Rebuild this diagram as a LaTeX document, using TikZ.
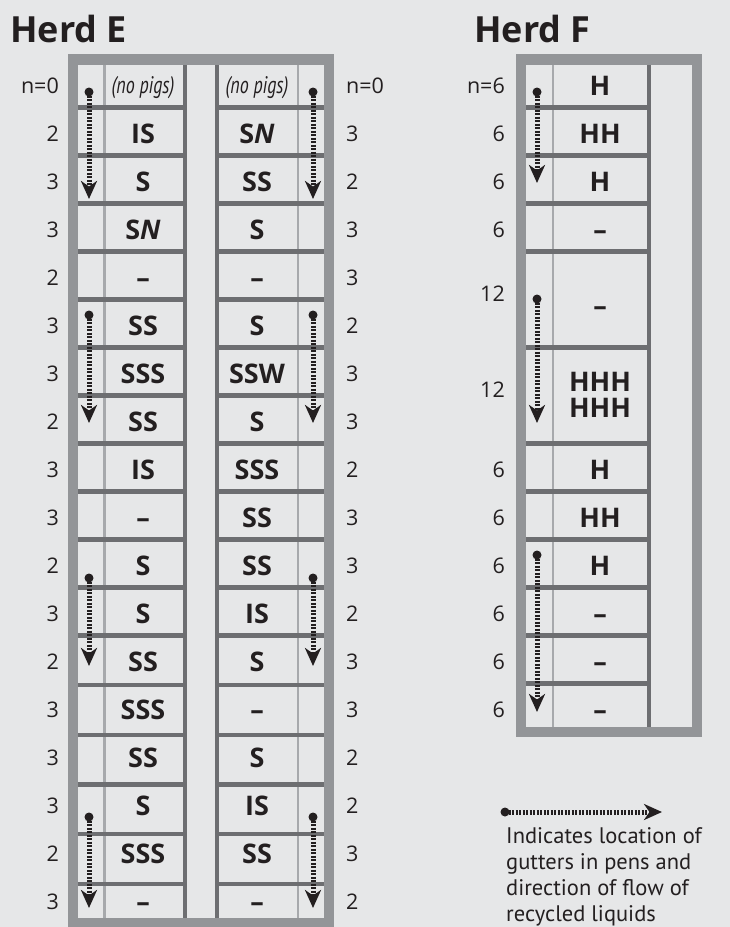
\documentclass[tikz,border=0pt]{standalone}
\usepackage{fontspec}
\setmainfont{Open Sans}
\newfontfamily\legfont{PT Sans}
\usepackage{graphicx}
\usetikzlibrary{arrows.meta}
\definecolor{bgc}{HTML}{E6E7E8}
\definecolor{framec}{HTML}{939598}
\definecolor{darkc}{HTML}{6D6E71}
\definecolor{thinc}{HTML}{A7A9AC}
\definecolor{inkc}{HTML}{231F20}
\tikzset{
  rowlbl/.style={font=\fontsize{21.5}{24}\selectfont, text=inkc, inner sep=0pt},
  lblL/.style={rowlbl, anchor=base east},
  lblR/.style={rowlbl, anchor=base west},
  pen/.style={font=\bfseries\fontsize{27}{30}\selectfont, text=inkc, inner sep=0pt, anchor=base},
  nopigs/.style={font=\legfont\itshape\fontsize{24}{26}\selectfont, text=inkc, inner sep=0pt, anchor=base},
  herdtitle/.style={font=\bfseries\fontsize{36}{40}\selectfont, text=inkc, inner sep=0pt, anchor=base west},
  legtext/.style={font=\legfont\fontsize{22.5}{26}\selectfont, text=inkc, inner sep=0pt, anchor=base west},
  divider/.style={draw=darkc, line width=4.5pt},
  wall/.style={draw=darkc, line width=4.5pt},
  gutterline/.style={draw=thinc, line width=2.5pt},
  flow/.style={draw=inkc, line width=5pt, dash pattern=on 2.3pt off 1.2pt, -{Stealth[length=18pt,width=16pt,inset=5.5pt]}},
  flowdot/.style={fill=inkc, circle, inner sep=0pt, minimum size=9pt},
}
\begin{document}
\begin{tikzpicture}[x=1pt,y=-1pt]
\useasboundingbox (0,0) rectangle (730,927);
\fill[bgc] (0,0) rectangle (730,927);
% ---------------- Herd E ----------------
\node[herdtitle] (titleE) at (10,42) {Herd E};
\fill[framec] (68,54) rectangle (334,934);
\fill[bgc] (78,65) rectangle (324,918);
\draw[gutterline] (104.5,65) -- (104.5,918);
\draw[gutterline] (298,65) -- (298,918);
\foreach \y in {107.5,155.5,203.5,251.5,299.5,347.5,395.5,443.5,491.5,539.5,587.5,635.5,685,735,784.5,834,884}{
  \draw[divider] (78,\y) -- (185,\y);
  \draw[divider] (217,\y) -- (324,\y);
}
\draw[wall] (185,65) -- (185,918);
\draw[wall] (217,65) -- (217,918);
% row labels
\foreach \t [count=\i] in {n=0,2,3,3,2,3,3,2,3,3,2,3,2,3,3,3,2,3}
  \node[lblL] (eL\i) at (59,{86+48*(\i-1)+7.5}) {\t};
\foreach \t [count=\i] in {n=0,3,2,3,3,2,3,3,2,3,3,2,3,3,2,2,3,2}
  \node[lblR] (eR\i) at (346,{86+48*(\i-1)+7.5}) {\t};
% pen contents
\node[nopigs] (ePL1) at (143,93) {\scalebox{0.75}[1]{(no pigs)}};
\node[nopigs] (ePR1) at (257,93) {\scalebox{0.75}[1]{(no pigs)}};
\foreach \t [count=\i from 2] in {IS,S,S\textit{N},–,SS,SSS,SS,IS,–,S,S,SS,SSS,SS,S,SSS,–}
  \node[pen] (ePL\i) at (143,{86+48*(\i-1)+9.5}) {\t};
\foreach \t [count=\i from 2] in {S\textit{N},SS,S,–,S,SSW,S,SSS,SS,SS,IS,S,–,S,IS,SS,–}
  \node[pen] (ePR\i) at (257,{86+48*(\i-1)+9.5}) {\t};
% gutters
\foreach \a/\b [count=\k] in {92/199,315/423,578/666,817/908}{
  \node[flowdot] (eLs\k) at (89,\a) {};
  \coordinate (eLt\k) at (89,\b);
  \draw[flow] (eLs\k.center) -- (eLt\k);
  \node[flowdot] (eRs\k) at (313,\a) {};
  \coordinate (eRt\k) at (313,\b);
  \draw[flow] (eRs\k.center) -- (eRt\k);
}
% ---------------- Herd F ----------------
\node[herdtitle] (titleF) at (474,42) {Herd F};
\fill[framec] (516,54) rectangle (702,737);
\fill[bgc] (526,65) rectangle (692,727);
\draw[gutterline] (553,65) -- (553,727);
\foreach \y in {107.5,155.5,203.5,251.5,347.5,443.5,491.5,539.5,587.5,635.5,683.5}
  \draw[divider] (526,\y) -- (649,\y);
\draw[wall] (649,65) -- (649,727);
\foreach \t/\y [count=\i] in {n=6/86,6/134,6/182,6/230,12/294,12/390,6/470,6/518,6/566,6/614,6/662,6/710}
  \node[lblL] (fL\i) at (505,\y+7.5) {\t};
\foreach \t/\y [count=\i] in {H/86,HH/134,H/182,–/230,–/306,HHH/382,HHH/408,H/470,HH/518,H/566,–/614,–/662,–/710}
  \node[pen] (fP\i) at (600,\y+9.5) {\t};
\foreach \a/\b [count=\k] in {92/183,299/423,555/712}{
  \node[flowdot] (fs\k) at (537,\a) {};
  \coordinate (ft\k) at (537,\b);
  \draw[flow] (fs\k.center) -- (ft\k);
}
% ---------------- Legend ----------------
\node[flowdot] (legs) at (505,812) {};
\coordinate (legt) at (662,812);
\draw[flow] (legs.center) -- (legt);
\node[legtext] (leg1) at (506,843) {Indicates location of};
\node[legtext] (leg2) at (506,869) {gutters in pens and};
\node[legtext] (leg3) at (506,895) {direction of flow of};
\node[legtext] (leg4) at (506,921) {recycled liquids};
\end{tikzpicture}
\end{document}
